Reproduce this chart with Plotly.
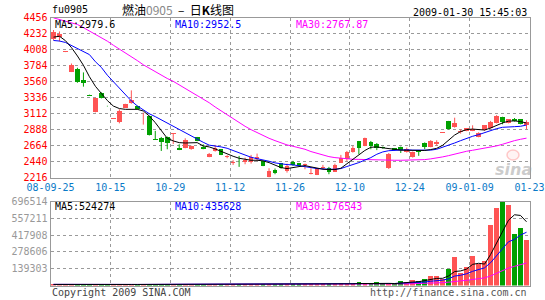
import plotly.graph_objects as go
import pandas as pd

# ---------------- data ----------------
date_labels = ["08-09-25", "10-15", "10-29", "11-12", "11-26", "12-10", "12-24", "09-01-09", "01-23"]

opens = [4160, 4190, 3975, 3700, 3740, 3580, 3378, 3135, 3405, 3222,
         3036, 2995, 3196, 3260, 3219, 2960, 3080, 2755, 2775, 2780,
         2828, 2635, 2636, 2612, 2780, 2650, 2505, 2589, 2612, 2500,
         2416, 2492, 2430, 2430, 2477, 2449, 2224, 2323, 2416, 2309,
         2435, 2416, 2393, 2262, 2253, 2355, 2346, 2300, 2425, 2472,
         2579, 2729, 2659, 2719, 2690, 2640, 2346, 2625, 2640, 2580,
         2505, 2598, 2705, 2650, 2690, 2845, 3008, 2925, 2857, 2870,
         2870, 2785, 2878, 2906, 2985, 3065, 2980, 3041, 3032, 2953]
highs = [4285, 4265, 3985, 3815, 3755, 3690, 3378, 3335, 3410, 3222,
         3046, 3172, 3250, 3438, 3222, 3126, 3085, 2870, 2785, 2790,
         2838, 2682, 2766, 2662, 2785, 2682, 2560, 2673, 2615, 2528,
         2458, 2519, 2495, 2533, 2551, 2452, 2346, 2342, 2420, 2411,
         2449, 2420, 2411, 2346, 2350, 2393, 2365, 2411, 2533, 2589,
         2659, 2729, 2775, 2729, 2700, 2650, 2560, 2630, 2650, 2635,
         2580, 2600, 2708, 2740, 2738, 2852, 3010, 3055, 2892, 2910,
         2948, 2850, 2952, 3010, 3090, 3068, 3036, 3050, 3036, 3018]
lows = [4140, 4125, 3975, 3695, 3545, 3490, 3366, 3130, 3325, 3212,
        3036, 2976, 3190, 3250, 3168, 2958, 2805, 2745, 2588, 2612,
        2685, 2600, 2626, 2605, 2725, 2612, 2500, 2579, 2530, 2486,
        2393, 2365, 2402, 2411, 2449, 2375, 2215, 2262, 2340, 2285,
        2379, 2375, 2332, 2260, 2250, 2332, 2262, 2295, 2420, 2449,
        2565, 2542, 2655, 2612, 2600, 2620, 2335, 2595, 2560, 2565,
        2495, 2520, 2612, 2640, 2660, 2843, 2888, 2915, 2832, 2865,
        2866, 2780, 2870, 2900, 2975, 2962, 2975, 3000, 2962, 2892]
closes = [4250, 4225, 3985, 3790, 3555, 3545, 3366, 3330, 3330, 3212,
          3046, 3148, 3242, 3300, 3172, 2968, 2810, 2748, 2710, 2700,
          2835, 2605, 2740, 2658, 2730, 2621, 2552, 2635, 2533, 2510,
          2428, 2484, 2467, 2505, 2505, 2379, 2309, 2276, 2346, 2379,
          2397, 2379, 2402, 2268, 2346, 2362, 2300, 2393, 2486, 2575,
          2635, 2635, 2766, 2659, 2625, 2628, 2551, 2605, 2600, 2610,
          2575, 2580, 2645, 2729, 2710, 2852, 2892, 2985, 2862, 2906,
          2892, 2845, 2948, 3000, 3079, 3000, 3032, 3008, 2971, 3000]

ma5 = [4185, 4197, 4135, 4038, 3920, 3790, 3630, 3495, 3395, 3295,
       3218, 3183, 3172, 3172, 3172, 3149, 3079, 2985, 2869, 2766,
       2729, 2705, 2700, 2700, 2705, 2659, 2645, 2617, 2579, 2542,
       2514, 2486, 2467, 2458, 2458, 2449, 2425, 2393, 2355, 2341,
       2355, 2379, 2383, 2365, 2346, 2332, 2327, 2327, 2346, 2410,
       2465, 2530, 2595, 2640, 2645, 2632, 2618, 2606, 2600, 2598,
       2595, 2590, 2595, 2608, 2625, 2668, 2745, 2812, 2860, 2888,
       2895, 2888, 2882, 2910, 2946, 2982, 3006, 3010, 3000, 2980]
ma10 = [4138, 4130, 4110, 4070, 4030, 3990, 3940, 3840, 3760, 3650,
        3560, 3470, 3370, 3290, 3220, 3160, 3110, 3070, 3025, 2975,
        2930, 2880, 2840, 2795, 2750, 2710, 2670, 2659, 2645, 2626,
        2595, 2560, 2525, 2500, 2480, 2465, 2444, 2421, 2407, 2397,
        2393, 2383, 2374, 2355, 2341, 2332, 2332, 2332, 2341, 2370,
        2395, 2425, 2460, 2495, 2542, 2575, 2592, 2598, 2605, 2605,
        2600, 2598, 2598, 2600, 2612, 2638, 2670, 2700, 2733, 2766,
        2794, 2817, 2845, 2878, 2901, 2920, 2929, 2929, 2934, 2952]
ma30 = [4455, 4430, 4410, 4385, 4362, 4318, 4272, 4224, 4180, 4128,
        4071, 4020, 3970, 3915, 3856, 3797, 3747, 3695, 3645, 3605,
        3565, 3515, 3465, 3415, 3370, 3320, 3265, 3205, 3149, 3093,
        3041, 2985, 2934, 2887, 2845, 2803, 2766, 2733, 2700, 2673,
        2654, 2635, 2612, 2580, 2556, 2528, 2509, 2495, 2486, 2477,
        2472, 2470, 2467, 2463, 2458, 2458, 2458, 2458, 2458, 2458,
        2463, 2463, 2467, 2477, 2486, 2505, 2523, 2547, 2565, 2584,
        2598, 2612, 2626, 2640, 2659, 2682, 2710, 2733, 2752, 2768]

volumes = [9000, 8000, 9000, 8000, 9000, 8000, 9000, 8000, 9000, 8000,
           9000, 8000, 9000, 9000, 8000, 9000, 9000, 8000, 9000, 9000,
           8000, 9000, 9000, 8000, 9000, 9000, 8000, 9000, 9000, 9000,
           9000, 10000, 9000, 9000, 10000, 9000, 10000, 9000, 9000, 12000,
           9000, 10000, 11000, 9000, 12000, 9000, 15000, 10000, 18000, 12000,
           15000, 25000, 16000, 12000, 28000, 10000, 22000, 9000, 40000, 26000,
           46000, 37000, 55000, 80000, 76000, 50000, 137000, 236000, 106000, 152000,
           245000, 182000, 203000, 502000, 640000, 696514, 667000, 427000, 474000, 377000]

price_ticks = [2216, 2440, 2664, 2888, 3112, 3336, 3560, 3784, 4008, 4232, 4456]
vol_ticks = [139303, 278606, 417908, 557211, 696514]

# ---------------- derived ----------------
N = len(closes)
xs = [i + 0.5 for i in range(N)]
RED, GREEN = "#ff5454", "#00a000"
up = [c >= o for o, c in zip(opens, closes)]
cols = [RED if u else GREEN for u in up]
body_base = [min(o, c) for o, c in zip(opens, closes)]
body_h = [max(abs(c - o), 12) for o, c in zip(opens, closes)]

vs = pd.Series(volumes, dtype=float)
vma5 = vs.rolling(5, min_periods=1).mean().tolist()
vma10 = vs.rolling(10, min_periods=1).mean().tolist()
vma30 = vs.rolling(30, min_periods=1).mean().tolist()

W, H = 545, 300
def px(v): return v / W
def py(v): return 1 - v / H

L, R = 50.5, 529.5
MAIN_T, MAIN_B = 17.8, 177.5
VOL_T, VOL_B = 201.5, 285.5

MONO = "DejaVu Sans Mono"
fig = go.Figure()

# wicks
for flag, col in ((True, RED), (False, GREEN)):
    wx, wy = [], []
    for i in range(N):
        if up[i] == flag:
            wx += [xs[i], xs[i], None]
            wy += [lows[i], highs[i], None]
    fig.add_trace(go.Scatter(x=wx, y=wy, mode="lines", line=dict(color=col, width=1),
                             hoverinfo="skip", xaxis="x", yaxis="y"))
# bodies
fig.add_trace(go.Bar(x=xs, y=body_h, base=body_base, width=0.78,
                     marker=dict(color=cols, line=dict(width=0)), xaxis="x", yaxis="y"))
# price MAs
for arr, col in ((ma30, "#ff00ff"), (ma10, "#0000ff"), (ma5, "#000000")):
    fig.add_trace(go.Scatter(x=xs, y=arr, mode="lines", line=dict(color=col, width=1),
                             xaxis="x", yaxis="y"))
# volume
fig.add_trace(go.Bar(x=xs, y=volumes, width=0.78,
                     marker=dict(color=cols, line=dict(width=0)), xaxis="x2", yaxis="y2"))
for arr, col in ((vma30, "#ff00ff"), (vma10, "#0000ff"), (vma5, "#000000")):
    fig.add_trace(go.Scatter(x=xs, y=arr, mode="lines", line=dict(color=col, width=1),
                             xaxis="x2", yaxis="y2"))

grid = dict(showgrid=True, gridcolor="#9a9a9a", griddash="dot", gridwidth=1,
            showline=True, mirror=True, linecolor="#999999", linewidth=1,
            zeroline=False, ticks="", fixedrange=True, automargin=False)

xt = list(range(0, 81, 10))
fig.update_layout(
    width=W, height=H, margin=dict(l=0, r=0, t=0, b=0, autoexpand=False),
    paper_bgcolor="white", plot_bgcolor="white", showlegend=False, hovermode=False,
    bargap=0,
    xaxis=dict(domain=[px(L), px(R)], range=[0, 80], tickvals=xt, ticktext=date_labels,
               tickfont=dict(family=MONO, size=10, color="#0a7ac8"), anchor="y", **grid),
    yaxis=dict(domain=[py(MAIN_B), py(MAIN_T)], range=[2216, 4456], tickvals=price_ticks,
               ticktext=[str(t) for t in price_ticks],
               tickfont=dict(family=MONO, size=10, color="#ff0000"), anchor="x", **grid),
    xaxis2=dict(domain=[px(L), px(R)], range=[0, 80], tickvals=xt, showticklabels=False,
                anchor="y2", **grid),
    yaxis2=dict(domain=[py(VOL_B), py(VOL_T)], range=[0, 696514], tickvals=vol_ticks,
                ticktext=[str(t) for t in vol_ticks],
                tickfont=dict(family=MONO, size=10, color="#999999"), anchor="x2", **grid),
)

ann = []
def text(xp, yp, s, color="#000000", anchor="left", size=10, family=MONO):
    ann.append(dict(x=px(xp), y=py(yp), xref="paper", yref="paper", text=s, showarrow=False,
                    xanchor=anchor, yanchor="middle",
                    font=dict(family=family, size=size, color=color)))

text(50, 10, "fu0905")
text(120, 9.5, '燃油<span style="color:#888888">0905</span>&nbsp;&nbsp;–&nbsp;&nbsp;日<b>K</b>线图',
     size=12, family="Noto Sans CJK SC")
text(529, 12.5, "2009-01-30 15:45:03", anchor="right")
text(53, 24.5, "MA5:2979.6")
text(173, 24.5, "MA10:2952.5", color="#0000ff")
text(294, 24.5, "MA30:2767.87", color="#ff00ff")
text(53, 207, "MA5:524274")
text(173, 207, "MA10:435628", color="#0000ff")
text(294, 207, "MA30:176543", color="#ff00ff")
text(50, 292.5, "Copyright 2009 SINA.COM", color="#444444")
text(529, 292.5, "http://finance.sina.com.cn", color="#555555", anchor="right")
ann.append(dict(x=px(513), y=py(169), xref="paper", yref="paper",
                text="<b><i>sina</i></b>", showarrow=False, xanchor="center", yanchor="middle",
                font=dict(family="DejaVu Sans", size=16, color="rgba(160,160,160,0.55)")))
fig.update_layout(annotations=ann)
fig.add_shape(type="circle", xref="paper", yref="paper",
              x0=px(507), x1=px(519), y0=py(160), y1=py(150),
              line=dict(color="rgba(255,140,140,0.45)", width=1.5),
              fillcolor="rgba(255,200,200,0.2)")

fig.write_html("out.html", config={"displayModeBar": False, "staticPlot": True})
